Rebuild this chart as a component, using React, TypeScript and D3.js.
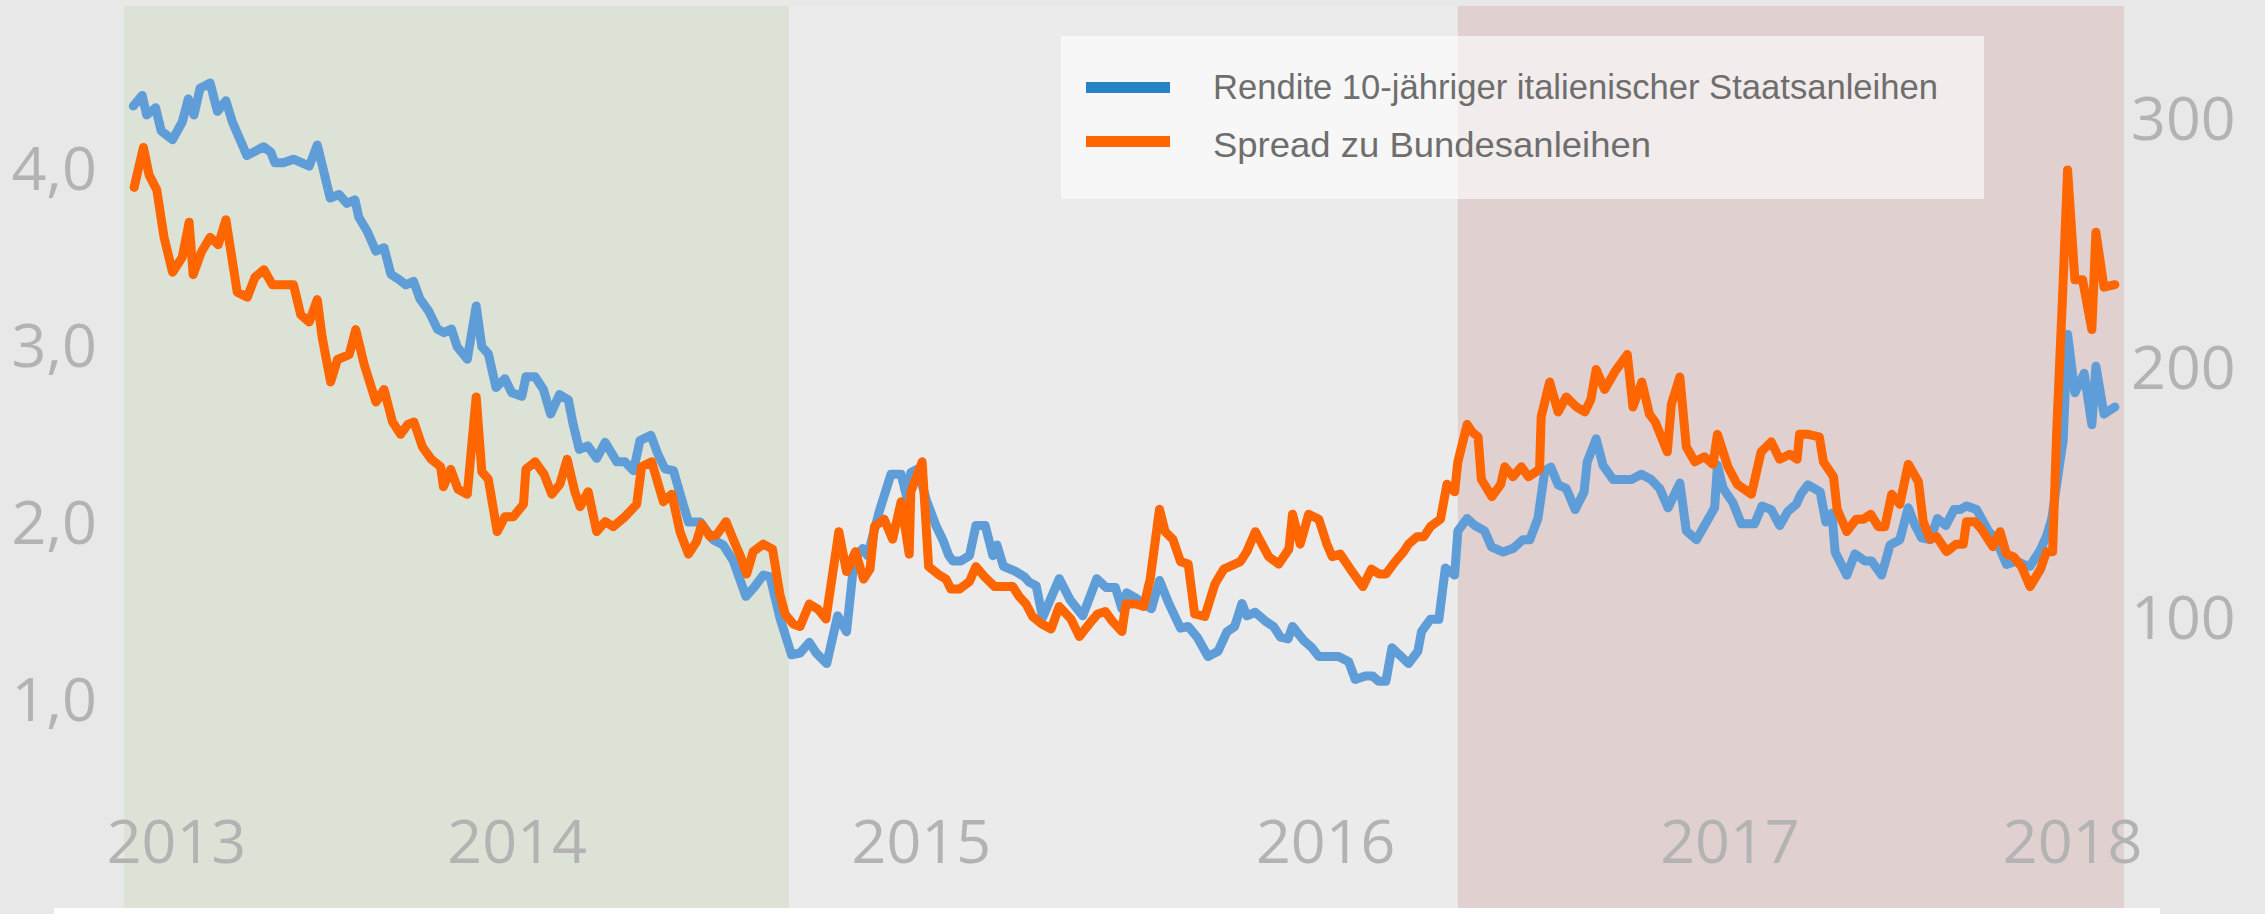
import React from "react";
import * as d3 from "d3";

const W = 2265, H = 914;

// Rendite 10-jähriger italienischer Staatsanleihen in % (Jahr als Dezimalzahl, Wert)
const RENDITE: [number, number][] = [
  [2013.051,4.35],[2013.073,4.41],[2013.084,4.30],[2013.106,4.34],[2013.120,4.21],[2013.148,4.16],[2013.172,4.26],[2013.187,4.39],
  [2013.201,4.30],[2013.216,4.45],[2013.241,4.48],[2013.259,4.32],[2013.280,4.38],[2013.296,4.26],[2013.332,4.07],[2013.373,4.12],
  [2013.391,4.09],[2013.401,4.03],[2013.422,4.03],[2013.447,4.05],[2013.486,4.01],[2013.506,4.13],[2013.538,3.83],[2013.560,3.85],
  [2013.579,3.80],[2013.599,3.82],[2013.609,3.72],[2013.630,3.64],[2013.651,3.53],[2013.671,3.55],[2013.688,3.40],[2013.708,3.37],
  [2013.725,3.34],[2013.744,3.36],[2013.760,3.26],[2013.782,3.19],[2013.803,3.09],[2013.819,3.07],[2013.838,3.09],[2013.852,2.99],
  [2013.877,2.92],[2013.899,3.22],[2013.913,2.99],[2013.929,2.95],[2013.948,2.76],[2013.970,2.81],[2013.987,2.73],[2014.012,2.71],
  [2014.022,2.82],[2014.045,2.82],[2014.065,2.75],[2014.083,2.61],[2014.105,2.72],[2014.127,2.69],[2014.138,2.56],[2014.154,2.41],
  [2014.175,2.43],[2014.197,2.36],[2014.218,2.45],[2014.247,2.34],[2014.267,2.34],[2014.288,2.29],[2014.304,2.46],[2014.331,2.49],
  [2014.349,2.38],[2014.366,2.30],[2014.387,2.29],[2014.407,2.13],[2014.424,2.00],[2014.453,2.00],[2014.485,1.90],[2014.510,1.87],
  [2014.535,1.78],[2014.566,1.58],[2014.586,1.63],[2014.609,1.70],[2014.626,1.69],[2014.650,1.46],[2014.679,1.25],[2014.700,1.26],
  [2014.723,1.32],[2014.740,1.26],[2014.766,1.20],[2014.793,1.47],[2014.815,1.38],[2014.834,1.79],[2014.855,1.85],[2014.867,1.81],
  [2014.896,2.06],[2014.925,2.27],[2014.950,2.27],[2014.966,2.12],[2014.974,2.28],[2014.991,2.30],[2015.013,2.12],[2015.036,1.98],
  [2015.053,1.90],[2015.068,1.81],[2015.078,1.78],[2015.098,1.78],[2015.119,1.81],[2015.135,1.98],[2015.158,1.98],[2015.177,1.81],
  [2015.187,1.87],[2015.203,1.75],[2015.234,1.72],[2015.255,1.69],[2015.267,1.66],[2015.284,1.64],[2015.300,1.46],[2015.341,1.68],
  [2015.368,1.56],[2015.399,1.47],[2015.434,1.68],[2015.457,1.63],[2015.480,1.63],[2015.496,1.51],[2015.508,1.60],[2015.531,1.57],
  [2015.550,1.54],[2015.569,1.51],[2015.589,1.67],[2015.612,1.54],[2015.641,1.40],[2015.660,1.41],[2015.682,1.35],[2015.709,1.24],
  [2015.734,1.27],[2015.756,1.38],[2015.775,1.41],[2015.793,1.54],[2015.805,1.47],[2015.826,1.49],[2015.851,1.44],[2015.871,1.41],
  [2015.888,1.35],[2015.907,1.34],[2015.918,1.41],[2015.946,1.33],[2015.966,1.29],[2015.983,1.24],[2016.032,1.24],[2016.057,1.21],
  [2016.073,1.11],[2016.098,1.13],[2016.116,1.13],[2016.131,1.10],[2016.149,1.10],[2016.164,1.29],[2016.205,1.20],[2016.228,1.27],
  [2016.237,1.38],[2016.259,1.45],[2016.280,1.45],[2016.296,1.74],[2016.319,1.70],[2016.327,1.95],[2016.350,2.02],[2016.369,1.98],
  [2016.393,1.95],[2016.410,1.86],[2016.439,1.83],[2016.463,1.85],[2016.488,1.90],[2016.505,1.90],[2016.525,2.02],[2016.542,2.29],
  [2016.557,2.31],[2016.575,2.21],[2016.595,2.19],[2016.617,2.07],[2016.639,2.17],[2016.647,2.34],[2016.669,2.47],[2016.686,2.32],
  [2016.711,2.24],[2016.756,2.24],[2016.781,2.27],[2016.805,2.24],[2016.826,2.19],[2016.847,2.08],[2016.876,2.22],[2016.892,1.95],
  [2016.917,1.90],[2016.962,2.08],[2016.969,2.32],[2016.983,2.19],[2017.007,2.11],[2017.028,1.99],[2017.061,1.99],[2017.079,2.09],
  [2017.102,2.07],[2017.123,1.98],[2017.143,2.06],[2017.164,2.10],[2017.176,2.16],[2017.193,2.21],[2017.223,2.17],[2017.237,2.00],
  [2017.252,2.05],[2017.260,1.83],[2017.289,1.70],[2017.309,1.82],[2017.334,1.78],[2017.350,1.78],[2017.375,1.70],[2017.396,1.87],
  [2017.420,1.90],[2017.441,2.08],[2017.458,1.98],[2017.474,1.91],[2017.495,1.90],[2017.513,2.02],[2017.534,1.98],[2017.554,2.07],
  [2017.569,2.07],[2017.585,2.09],[2017.610,2.07],[2017.639,1.95],[2017.658,1.90],[2017.684,1.76],[2017.709,1.78],[2017.727,1.76],
  [2017.742,1.75],[2017.767,1.84],[2017.783,1.92],[2017.796,2.02],[2017.816,2.34],[2017.824,2.46],[2017.835,3.06],[2017.853,2.73],
  [2017.876,2.84],[2017.895,2.55],[2017.905,2.88],[2017.925,2.61],[2017.952,2.65],
];

// Spread zu Bundesanleihen in Basispunkten
const SPREAD: [number, number][] = [
  [2013.053,272],[2013.076,288],[2013.090,277],[2013.109,271],[2013.127,252],[2013.148,238],[2013.172,244],[2013.189,258],
  [2013.199,237],[2013.219,246],[2013.241,252],[2013.261,249],[2013.280,259],[2013.308,230],[2013.333,228],[2013.352,236],
  [2013.374,239],[2013.395,233],[2013.447,233],[2013.465,221],[2013.486,218],[2013.506,227],[2013.518,212],[2013.539,194],
  [2013.556,203],[2013.585,205],[2013.601,215],[2013.622,201],[2013.651,186],[2013.671,191],[2013.692,178],[2013.712,173],
  [2013.730,177],[2013.745,178],[2013.766,168],[2013.788,163],[2013.811,160],[2013.818,152],[2013.836,159],[2013.854,151],
  [2013.877,149],[2013.899,188],[2013.913,158],[2013.929,155],[2013.951,134],[2013.970,140],[2013.991,140],[2014.016,145],
  [2014.022,159],[2014.045,162],[2014.067,157],[2014.086,149],[2014.106,153],[2014.124,163],[2014.143,150],[2014.156,144],
  [2014.176,150],[2014.197,134],[2014.218,138],[2014.238,136],[2014.267,140],[2014.296,145],[2014.308,160],[2014.333,162],
  [2014.362,146],[2014.383,149],[2014.403,134],[2014.424,125],[2014.444,130],[2014.457,137],[2014.477,132],[2014.495,133],
  [2014.517,138],[2014.537,130],[2014.553,124],[2014.568,117],[2014.584,126],[2014.609,129],[2014.632,127],[2014.650,109],
  [2014.663,101],[2014.683,97],[2014.700,96],[2014.723,105],[2014.744,103],[2014.764,99],[2014.796,134],[2014.815,118],
  [2014.837,126],[2014.857,115],[2014.873,119],[2014.884,136],[2014.908,139],[2014.929,131],[2014.950,146],[2014.970,125],
  [2014.974,150],[2015.002,162],[2015.018,120],[2015.041,117],[2015.061,115],[2015.073,111],[2015.094,111],[2015.119,114],
  [2015.135,120],[2015.156,116],[2015.181,112],[2015.226,112],[2015.242,108],[2015.259,105],[2015.275,100],[2015.298,97],
  [2015.321,95],[2015.341,104],[2015.370,99],[2015.391,92],[2015.420,98],[2015.436,101],[2015.455,102],[2015.473,98],
  [2015.496,94],[2015.506,105],[2015.531,105],[2015.550,104],[2015.566,115],[2015.589,143],[2015.603,134],[2015.622,131],
  [2015.641,122],[2015.660,121],[2015.676,101],[2015.701,100],[2015.726,113],[2015.748,119],[2015.789,122],[2015.805,126],
  [2015.826,134],[2015.859,124],[2015.884,121],[2015.909,127],[2015.918,141],[2015.937,129],[2015.958,141],[2015.983,139],
  [2016.003,129],[2016.016,124],[2016.036,125],[2016.061,119],[2016.092,112],[2016.113,119],[2016.133,117],[2016.149,117],
  [2016.172,122],[2016.193,126],[2016.205,129],[2016.226,132],[2016.243,132],[2016.259,136],[2016.284,139],[2016.300,153],
  [2016.319,150],[2016.327,162],[2016.350,177],[2016.362,174],[2016.377,172],[2016.385,155],[2016.411,148],[2016.433,153],
  [2016.443,160],[2016.463,156],[2016.484,160],[2016.502,156],[2016.529,159],[2016.533,180],[2016.554,194],[2016.575,182],
  [2016.595,188],[2016.620,184],[2016.641,182],[2016.656,187],[2016.669,199],[2016.690,191],[2016.715,198],[2016.746,205],
  [2016.760,184],[2016.782,194],[2016.801,181],[2016.815,178],[2016.845,166],[2016.855,185],[2016.876,196],[2016.892,168],
  [2016.913,162],[2016.937,164],[2016.958,161],[2016.969,173],[2016.995,160],[2017.018,153],[2017.053,149],[2017.077,166],
  [2017.102,170],[2017.123,163],[2017.148,165],[2017.166,163],[2017.172,173],[2017.193,173],[2017.221,172],[2017.231,162],
  [2017.256,156],[2017.265,143],[2017.289,134],[2017.312,139],[2017.330,139],[2017.348,141],[2017.367,136],[2017.383,136],
  [2017.400,149],[2017.420,145],[2017.441,161],[2017.466,154],[2017.478,138],[2017.495,131],[2017.511,132],[2017.536,126],
  [2017.559,129],[2017.577,129],[2017.585,138],[2017.606,138],[2017.622,135],[2017.650,128],[2017.668,134],[2017.684,125],
  [2017.701,124],[2017.721,120],[2017.742,112],[2017.768,119],[2017.783,126],[2017.798,126],[2017.808,174],[2017.823,230],
  [2017.835,279],[2017.853,235],[2017.872,235],[2017.895,215],[2017.905,254],[2017.925,232],[2017.952,233],
];

// hinterlegte Phasen (von, bis)
const PHASEN: [number, number][] = [[2013.028, 2014.673], [2014.673, 2016.327], [2016.327, 2017.974]];
const JAHRE = [2013, 2014, 2015, 2016, 2017, 2018];
const TICKS_LINKS = [1, 2, 3, 4];
const TICKS_RECHTS = [100, 200, 300];
const LEGENDE = ["Rendite 10-jähriger italienischer Staatsanleihen", "Spread zu Bundesanleihen"];

const C = {
  bg: "#e8e8e8",
  phase: ["#dce2d5", "#ebebeb", "#e0d0d0"],
  blue: "#5e9dd7",
  blueKey: "#2683c6",
  orange: "#ff6600",
  axis: "#b3b3b3",
  legendText: "#6e6e6e",
};

const PLOT_TOP = 6, PLOT_BOTTOM = 908;
const AXIS_FONT = "'Open Sans', 'Noto Sans', sans-serif";

const x = d3.scaleLinear().domain([2013, 2018]).range([112.7, 2134.3]);
const yL = d3.scaleLinear().domain([1, 4]).range([699, 168]);
const yR = d3.scaleLinear().domain([100, 300]).range([616.5, 117.5]);

const lineL = d3.line<[number, number]>().x(d => x(d[0])).y(d => yL(d[1]));
const lineR = d3.line<[number, number]>().x(d => x(d[0])).y(d => yR(d[1]));
const fmtL = (v: number) => d3.format(".1f")(v).replace(".", ",");

export default function App() {
  return (
    <>
      <style>{`body{margin:0;background:${C.bg}}`}</style>
      <svg width={W} height={H} style={{ display: "block", position: "absolute", left: 0, top: 0 }}>
        <rect width={W} height={H} fill={C.bg} />

        {/* phases */}
        {PHASEN.map(([a, b], i) => (
          <rect key={i} x={x(a)} y={PLOT_TOP} width={x(b) - x(a)} height={PLOT_BOTTOM - PLOT_TOP} fill={C.phase[i]} />
        ))}
        <rect x={54} y={PLOT_BOTTOM} width={2106} height={H - PLOT_BOTTOM} fill="#ffffff" />

        {/* left axis */}
        {TICKS_LINKS.map(t => (
          <text key={t} x={97} y={yL(t) + 22} textAnchor="end" fill={C.axis}
            fontFamily={AXIS_FONT} fontSize={61}>{fmtL(t)}</text>
        ))}
        {/* right axis */}
        {TICKS_RECHTS.map(t => (
          <text key={t} x={2131} y={yR(t) + 22} textAnchor="start" fill={C.axis}
            fontFamily={AXIS_FONT} fontSize={61}>{t}</text>
        ))}
        {/* x axis */}
        {JAHRE.map((j, i) => {
          const first = i === 0, last = i === JAHRE.length - 1;
          return (
            <text key={j} x={x(j) + (first ? -6 : last ? 8 : 0)} y={863}
              textAnchor={first ? "start" : last ? "end" : "middle"} fill={C.axis}
              fontFamily={AXIS_FONT} fontSize={61}>{j}</text>
          );
        })}

        {/* lines */}
        <path d={lineL(RENDITE) ?? ""} fill="none" stroke={C.blue} strokeWidth={9}
          strokeLinejoin="round" strokeLinecap="round" />
        <path d={lineR(SPREAD) ?? ""} fill="none" stroke={C.orange} strokeWidth={9}
          strokeLinejoin="round" strokeLinecap="round" />

        {/* legend */}
        <rect x={1061} y={36} width={923} height={163} fill="#ffffff" fillOpacity={0.6} />
        <rect x={1086} y={82} width={84} height={11} fill={C.blueKey} />
        <rect x={1086} y={136} width={84} height={11} fill={C.orange} />
        <text x={1213} y={99} fill={C.legendText} fontFamily="'Liberation Sans', Arial, sans-serif"
          fontSize={35} textLength={725} lengthAdjust="spacingAndGlyphs">{LEGENDE[0]}</text>
        <text x={1213} y={157} fill={C.legendText} fontFamily="'Liberation Sans', Arial, sans-serif"
          fontSize={35} textLength={438} lengthAdjust="spacingAndGlyphs">{LEGENDE[1]}</text>
      </svg>
    </>
  );
}
